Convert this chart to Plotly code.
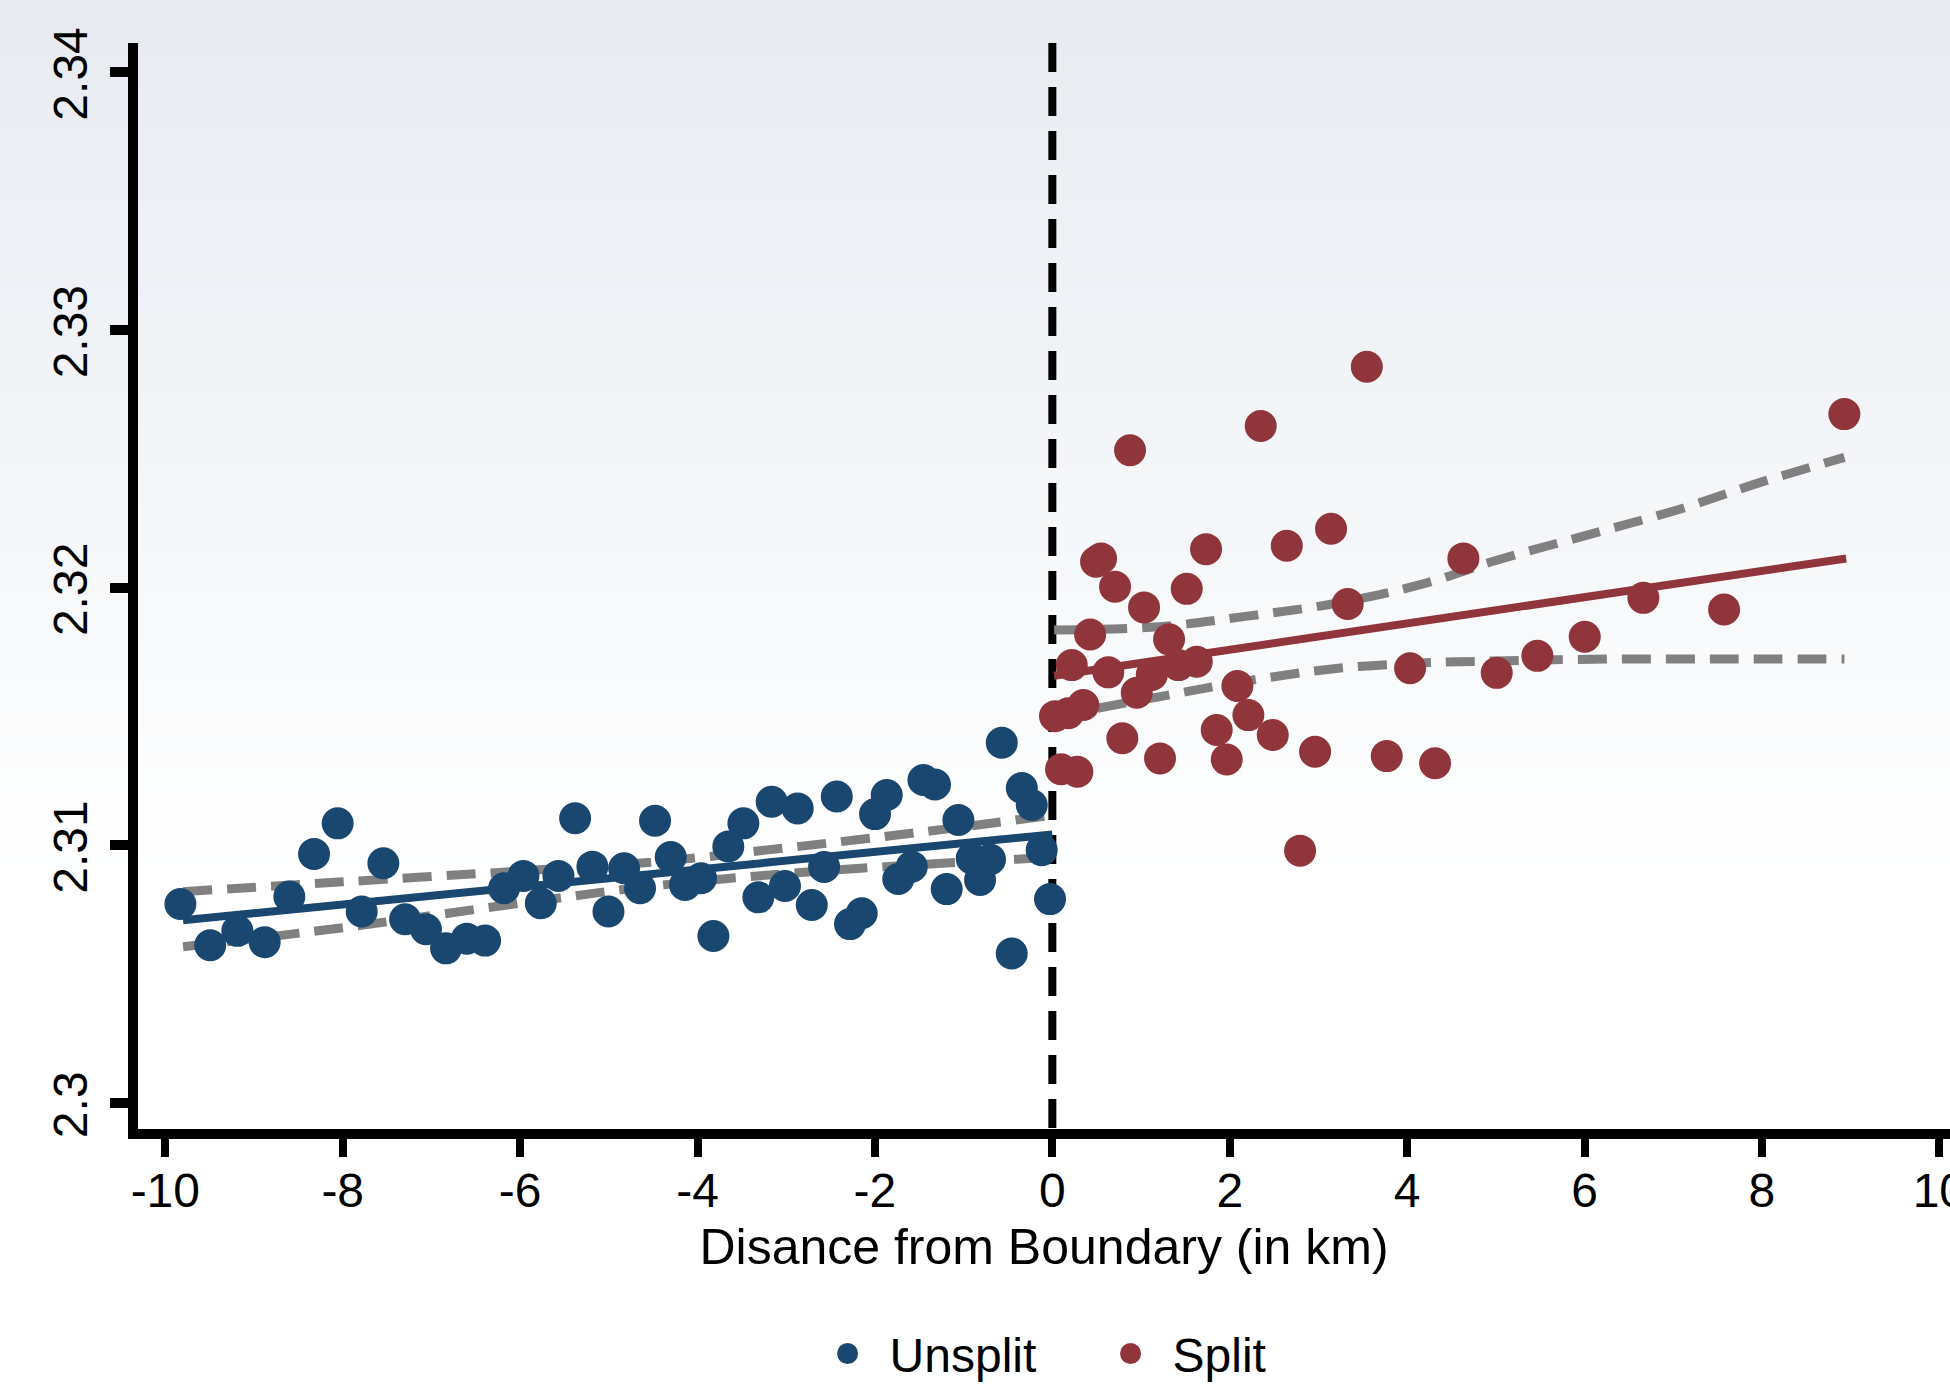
import plotly.graph_objects as go

# ---------------- data ----------------
unsplit_x = [-9.830, -9.494, -9.188, -8.880, -8.602, -8.323, -8.057, -7.786, -7.542, -7.297,
             -7.061, -6.835, -6.601, -6.395, -6.181, -5.963, -5.767, -5.568, -5.380, -5.185,
             -5.004, -4.828, -4.648, -4.479, -4.302, -4.141, -3.960, -3.821, -3.653, -3.483,
             -3.314, -3.164, -3.014, -2.871, -2.712, -2.573, -2.430, -2.281, -2.149, -1.999,
             -1.867, -1.737, -1.585, -1.453, -1.323, -1.191, -1.059, -0.909, -0.815, -0.703,
             -0.570, -0.458, -0.344, -0.232, -0.120, -0.026]
unsplit_y = [2.30772, 2.30612, 2.30668, 2.30624, 2.30801, 2.30966, 2.31085, 2.30743, 2.30930, 2.30713,
             2.30674, 2.30600, 2.30637, 2.30630, 2.30833, 2.30881, 2.30775, 2.30881, 2.31105, 2.30917,
             2.30743, 2.30911, 2.30833, 2.31095, 2.30954, 2.30846, 2.30872, 2.30648, 2.30995, 2.31085,
             2.30798, 2.31169, 2.30842, 2.31143, 2.30768, 2.30916, 2.31189, 2.30694, 2.30736, 2.31121,
             2.31195, 2.30869, 2.30917, 2.31253, 2.31236, 2.30830, 2.31098, 2.30949, 2.30865, 2.30945,
             2.31398, 2.30580, 2.31222, 2.31156, 2.30981, 2.30791]

split_x = [3.545, 2.349, 0.876, 3.142, 2.643, 1.733, 4.634, 0.549, 0.493, 0.707,
           1.515, 1.034, 3.330, 0.426, 1.316, 0.219, 0.631, 1.121, 1.421, 1.628,
           0.952, 2.086, 4.033, 5.010, 0.030, 0.180, 0.349, 2.210, 1.853, 2.485,
           0.789, 1.214, 1.966, 2.962, 3.770, 4.315, 0.098, 0.282, 2.793, 8.929,
           6.663, 7.573, 6.002, 5.468]
split_y = [2.32857, 2.32627, 2.32533, 2.32228, 2.32162, 2.32149, 2.32113, 2.32113, 2.32100, 2.32003,
           2.31995, 2.31923, 2.31936, 2.31818, 2.31799, 2.31699, 2.31671, 2.31661, 2.31699, 2.31712,
           2.31592, 2.31618, 2.31687, 2.31669, 2.31501, 2.31512, 2.31544, 2.31505, 2.31447, 2.31428,
           2.31415, 2.31337, 2.31333, 2.31363, 2.31346, 2.31318, 2.31295, 2.31285, 2.30979, 2.32673,
           2.31960, 2.31915, 2.31809, 2.31735]

unsplit_fit_x = [-9.80, 0.0]
unsplit_fit_y = [2.30709, 2.31042]
unsplit_ci_x = [-9.8, -8.0, -6.0, -4.5, -3.0, -1.5, 0.0]
unsplit_ci_hi = [2.30820, 2.30858, 2.30900, 2.30935, 2.30990, 2.31050, 2.31117]
unsplit_ci_lo = [2.30606, 2.30680, 2.30775, 2.30842, 2.30890, 2.30925, 2.30953]

split_fit_x = [0.02, 8.95]
split_fit_y = [2.31658, 2.32113]
split_ci_x = [0.02, 1.2, 2.2, 3.2, 4.2, 5.0, 6.1, 7.1, 8.0, 8.93]
split_ci_hi = [2.31835, 2.31848, 2.31889, 2.31939, 2.32016, 2.32105, 2.32210, 2.32307, 2.32410, 2.32505]
split_ci_lo = [2.31500, 2.31576, 2.31638, 2.31686, 2.31708, 2.31715, 2.31722, 2.31723, 2.31723, 2.31723]

x_ticks = [-10, -8, -6, -4, -2, 0, 2, 4, 6, 8, 10]
x_tick_labels = ["-10", "-8", "-6", "-4", "-2", "0", "2", "4", "6", "8", "10"]
y_ticks = [2.30, 2.31, 2.32, 2.33, 2.34]
y_tick_labels = ["2.3", "2.31", "2.32", "2.33", "2.34"]

# ---------------- styling ----------------
NAVY = "#1a476f"
MAROON = "#90353b"
GREY = "#808080"
FONT = "Liberation Sans, Arial, sans-serif"
W, H = 1950, 1384
ML, MR, MT, MB = 138, 0, 43, 255
PH = H - MT - MB
PW = W - ML - MR

fig = go.Figure()

ci_style = dict(color=GREY, width=9, dash="29px,15px")
for cx, cy in [(unsplit_ci_x, unsplit_ci_hi), (unsplit_ci_x, unsplit_ci_lo),
               (split_ci_x, split_ci_hi), (split_ci_x, split_ci_lo)]:
    fig.add_trace(go.Scatter(x=cx, y=cy, mode="lines", line=dict(ci_style, shape="spline"),
                             showlegend=False, hoverinfo="skip"))

fig.add_trace(go.Scatter(x=unsplit_fit_x, y=unsplit_fit_y, mode="lines",
                         line=dict(color=NAVY, width=8), showlegend=False))
fig.add_trace(go.Scatter(x=split_fit_x, y=split_fit_y, mode="lines",
                         line=dict(color=MAROON, width=8), showlegend=False))

fig.add_trace(go.Scatter(x=unsplit_x, y=unsplit_y, mode="markers", name="Unsplit",
                         marker=dict(color=NAVY, size=27, line=dict(width=5, color=NAVY))))
fig.add_trace(go.Scatter(x=split_x, y=split_y, mode="markers", name="Split",
                         marker=dict(color=MAROON, size=27, line=dict(width=5, color=MAROON))))

# background gradient (top light blue-grey fading to white)
shapes = []
n_bands = 70
grad_end_px = 880
top_rgb = (231, 235, 241)
for i in range(n_bands):
    p0 = grad_end_px * i / n_bands
    p1 = grad_end_px * (i + 1) / n_bands + 1
    t = (i + 0.5) / n_bands
    c = tuple(round(top_rgb[k] + (255 - top_rgb[k]) * t) for k in range(3))
    shapes.append(dict(type="rect", xref="paper", yref="paper", layer="below",
                       x0=-0.1, x1=1.05,
                       y0=(H - MB - p1) / PH, y1=(H - MB - p0) / PH,
                       fillcolor="rgb(%d,%d,%d)" % c, line=dict(width=0)))
# vertical boundary line at 0
shapes.append(dict(type="line", xref="x", yref="paper", x0=0, x1=0, y0=1, y1=0,
                   layer="below", line=dict(color="black", width=8, dash="29px,15px")))

fig.update_layout(
    width=W, height=H,
    margin=dict(l=ML, r=MR, t=MT, b=MB, pad=0, autoexpand=False),
    paper_bgcolor="white",
    plot_bgcolor="rgba(0,0,0,0)",
    font=dict(family=FONT, size=48, color="black"),
    shapes=shapes,
    showlegend=True,
    legend=dict(orientation="h", x=0.5246, xanchor="center", y=-0.207, yanchor="middle",
                font=dict(size=48, family=FONT), bgcolor="rgba(0,0,0,0)",
                itemwidth=74, entrywidth=194),
    xaxis=dict(range=[-10.308, 10.12], tickmode="array", tickvals=x_ticks, ticktext=x_tick_labels,
               ticks="outside", ticklen=18, tickwidth=8, tickcolor="black",
               ticklabeloverflow="allow", ticklabelstandoff=-8,
               showline=True, linecolor="black", linewidth=10, showgrid=False, zeroline=False,
               tickfont=dict(size=48, family=FONT),
               title=dict(text="Disance from Boundary (in km)", standoff=17,
                          font=dict(size=50, family=FONT)),
               automargin=False),
    yaxis=dict(range=[2.29899, 2.34113], tickmode="array", tickvals=y_ticks, ticktext=y_tick_labels,
               ticks="outside", ticklen=18, tickwidth=10, tickcolor="black", tickangle=-90,
               ticklabeloverflow="allow", ticklabelshift=9, ticklabelstandoff=4,
               showline=True, linecolor="black", linewidth=10, showgrid=False, zeroline=False,
               tickfont=dict(size=48, family=FONT), automargin=False),
)

fig.write_html("out.html", config={"displayModeBar": False},
               post_script="document.body.style.margin='0px';document.body.style.overflow='hidden';")
